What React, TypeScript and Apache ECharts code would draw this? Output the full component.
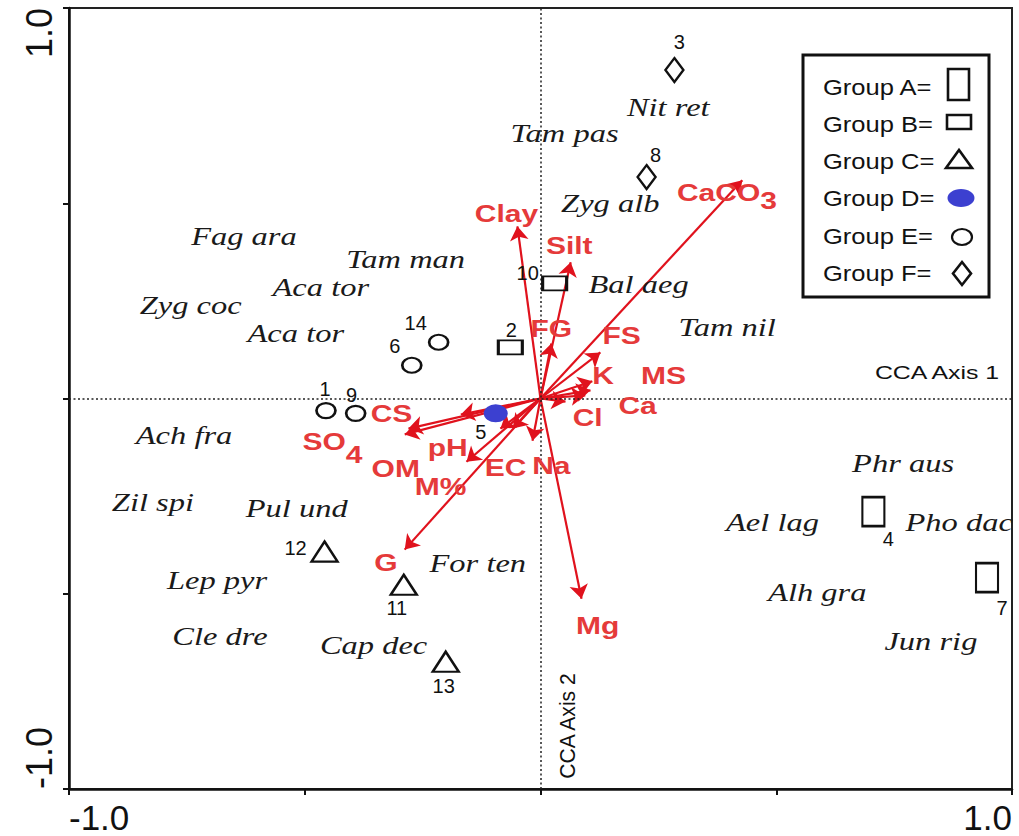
import React, { useEffect, useRef } from 'react';
import * as echarts from 'echarts';

// ---------- data ----------
const xTickLabels = ['-1.0', '1.0'];
const yTickLabels = ['-1.0', '1.0'];

const groupNames = ['Group A', 'Group B', 'Group C', 'Group D', 'Group E', 'Group F'];
const groupKeys = ['A', 'B', 'C', 'D', 'E', 'F'];

const siteNumbers = ['1', '2', '3', '4', '5', '6', '7', '8', '9', '10', '11', '12', '13', '14'];
const siteX = [-0.455, -0.064, 0.284, 0.706, -0.095, -0.273, 0.947, 0.225, -0.392, 0.03, -0.29, -0.458, -0.201, -0.216];
const siteY = [-0.031, 0.131, 0.841, -0.29, -0.038, 0.085, -0.459, 0.567, -0.038, 0.295, -0.477, -0.392, -0.674, 0.144];
const siteGroup = ['E', 'B', 'F', 'A', 'D', 'E', 'A', 'F', 'E', 'B', 'C', 'C', 'C', 'E'];
// label placement (pixel offset from marker centre)
const siteLabelOffset = [
  [-1, -22], [1, -17], [5, -28], [15, 27], [-15, 19], [-17, -19], [15, 30],
  [9, -22], [-4, -18], [-27, -10], [-7, 23], [-29, -4], [-2, 24], [-23, -19],
];

const speciesNames = ['Nit ret', 'Tam pas', 'Zyg alb', 'Fag ara', 'Tam man', 'Bal aeg', 'Aca tor', 'Zyg coc', 'Aca tor', 'Tam nil', 'Ach fra', 'Zil spi', 'Pul und', 'Phr aus', 'Ael lag', 'Pho dac', 'Alh gra', 'Lep pyr', 'For ten', 'Cle dre', 'Cap dec', 'Jun rig'];
const speciesX = [0.271, 0.051, 0.148, -0.629, -0.286, 0.208, -0.466, -0.742, -0.519, 0.396, -0.756, -0.822, -0.517, 0.769, 0.492, 0.888, 0.587, -0.686, -0.133, -0.68, -0.354, 0.828];
const speciesY = [0.746, 0.679, 0.5, 0.415, 0.356, 0.292, 0.284, 0.238, 0.167, 0.182, -0.095, -0.267, -0.282, -0.167, -0.318, -0.318, -0.497, -0.467, -0.423, -0.608, -0.633, -0.621];

const envNames = ['Clay', 'Silt', 'CaCO', 'FG', 'FS', 'K', 'MS', 'Ca', 'Cl', 'Na', 'EC', 'OM', 'pH', 'M%', 'CS', 'SO', 'G', 'Mg'];
const envSub = ['', '', '3', '', '', '', '', '', '', '', '', '', '', '', '', '4', '', ''];
const envX = [-0.049, 0.064, 0.428, 0.023, 0.127, 0.11, 0.106, 0.095, 0.053, -0.017, -0.059, -0.085, -0.157, -0.169, -0.28, -0.288, -0.288, 0.087];
const envY = [0.441, 0.349, 0.559, 0.141, 0.118, 0.044, 0.021, 0.008, -0.008, -0.108, -0.077, -0.077, -0.162, -0.041, -0.077, -0.092, -0.387, -0.513];
const envLabelX = [-0.072, 0.061, 0.466, 0.023, 0.172, 0.133, 0.261, 0.206, 0.1, 0.023, -0.074, -0.307, -0.197, -0.212, -0.316, -0.413, -0.328, 0.121];
const envLabelY = [0.474, 0.392, 0.526, 0.179, 0.162, 0.059, 0.059, -0.018, -0.049, -0.172, -0.177, -0.179, -0.126, -0.226, -0.038, -0.11, -0.421, -0.582];

// ---------- styles ----------
const SANS = '"Liberation Sans", Arial, sans-serif';
const SERIF = '"Liberation Serif", "Times New Roman", serif';
const RED_LINE = '#e0121d';
const RED_TEXT = '#e53a3a';
const INK = '#111';
const BLUE = '#3c40d0';
const ELLIPSE = 'path://M0 10A10 10 0 1 1 20 10A10 10 0 1 1 0 10Z';

const groupStyle: Record<string, { symbol: string; size: number[]; fill: string }> = {
  A: { symbol: 'rect', size: [22, 29], fill: 'rgba(0,0,0,0)' },
  B: { symbol: 'rect', size: [24, 14], fill: 'rgba(0,0,0,0)' },
  C: { symbol: 'triangle', size: [26, 20], fill: 'rgba(0,0,0,0)' },
  D: { symbol: ELLIPSE, size: [24, 18], fill: BLUE },
  E: { symbol: ELLIPSE, size: [19, 15], fill: 'rgba(0,0,0,0)' },
  F: { symbol: 'diamond', size: [18, 24], fill: 'rgba(0,0,0,0)' },
};

function buildOption() {
  const siteSeries = groupKeys.map((g, gi) => {
    const st = groupStyle[g];
    const data: any[] = [];
    siteNumbers.forEach((n, i) => {
      if (siteGroup[i] !== g) return;
      data.push({
        value: [siteX[i], siteY[i]],
        name: n,
        label: { offset: siteLabelOffset[i] },
      });
    });
    return {
      type: 'scatter',
      name: groupNames[gi],
      symbol: st.symbol,
      symbolSize: st.size,
      z: 5,
      itemStyle: {
        color: st.fill,
        borderColor: g === 'D' ? BLUE : INK,
        borderWidth: g === 'D' ? 0 : 2.4,
        opacity: 1,
      },
      label: {
        show: true,
        position: 'inside',
        formatter: (p: any) => p.name,
        color: INK,
        fontSize: 20,
        fontFamily: SANS,
      },
      data,
      ...(gi === 0
        ? {
            markLine: {
              silent: true,
              symbol: 'none',
              label: { show: false },
              lineStyle: { type: [2, 2.5], color: '#222', width: 1.5 },
              data: [{ xAxis: 0 }, { yAxis: 0 }],
            },
          }
        : {}),
    };
  });

  const arrowSeries = {
    type: 'lines',
    coordinateSystem: 'cartesian2d',
    z: 3,
    symbol: ['none', 'arrow'],
    symbolSize: 14,
    lineStyle: { color: RED_LINE, width: 2.2, opacity: 1 },
    data: envNames.map((n, i) => ({ name: n + envSub[i], coords: [[0, 0], [envX[i], envY[i]]] })),
  };

  const envTextStyle = {
    fontFamily: SANS,
    fontWeight: 'bold',
    fontSize: 24,
    fill: RED_TEXT,
  };

  const envLabelSeries = {
    type: 'custom',
    z: 6,
    silent: true,
    data: envLabelX.map((x, i) => [x, envLabelY[i]]),
    renderItem: (params: any, api: any) => {
      const i = params.dataIndex;
      const p = api.coord([api.value(0), api.value(1)]);
      if (envSub[i]) {
        return {
          type: 'group',
          x: p[0],
          y: p[1],
          scaleX: 1.25,
          children: [
            { type: 'text', style: { ...envTextStyle, text: envNames[i], align: 'right', verticalAlign: 'middle' } },
            { type: 'text', y: i === 15 ? 13 : 8, style: { ...envTextStyle, text: envSub[i], align: 'left', verticalAlign: 'middle' } },
          ],
        };
      }
      return {
        type: 'text',
        x: p[0],
        y: p[1],
        scaleX: 1.25,
        style: { ...envTextStyle, text: envNames[i], align: 'center', verticalAlign: 'middle' },
      };
    },
  };

  const speciesSeries = {
    type: 'custom',
    z: 4,
    silent: true,
    data: speciesX.map((x, i) => [x, speciesY[i]]),
    renderItem: (params: any, api: any) => {
      const p = api.coord([api.value(0), api.value(1)]);
      return {
        type: 'text',
        x: p[0],
        y: p[1],
        scaleX: 1.3,
        style: {
          text: speciesNames[params.dataIndex],
          fontFamily: SERIF,
          fontStyle: 'italic',
          fontSize: 25,
          fill: '#1a1a1a',
          align: 'center',
          verticalAlign: 'middle',
        },
      };
    },
  };

  const legendRows = [87, 124, 161, 198, 236, 273];
  const legendGraphic = {
    type: 'group',
    z: 10,
    children: [
      { type: 'rect', shape: { x: 803, y: 55, width: 186, height: 242 }, style: { fill: '#fff', stroke: INK, lineWidth: 3 } },
      ...groupNames.map((g, i) => ({
        type: 'text',
        x: 823,
        y: legendRows[i],
        scaleX: 1.16,
        style: { text: g + '=', fontFamily: SANS, fontSize: 22, fill: INK, align: 'left', verticalAlign: 'middle' },
      })),
      { type: 'rect', shape: { x: 948, y: 69, width: 21, height: 31 }, style: { fill: 'none', stroke: INK, lineWidth: 2.6 } },
      { type: 'rect', shape: { x: 947, y: 115, width: 24, height: 14 }, style: { fill: 'none', stroke: INK, lineWidth: 2.6 } },
      { type: 'polygon', shape: { points: [[946, 168], [959, 150], [972, 168]] }, style: { fill: 'none', stroke: INK, lineWidth: 2.6 } },
      { type: 'ellipse', shape: { cx: 961, cy: 198, rx: 13.5, ry: 9 }, style: { fill: BLUE } },
      { type: 'ellipse', shape: { cx: 962, cy: 237, rx: 10, ry: 8 }, style: { fill: 'none', stroke: INK, lineWidth: 2.2 } },
      { type: 'polygon', shape: { points: [[962, 262], [971, 273.5], [962, 285], [953, 273.5]] }, style: { fill: 'none', stroke: INK, lineWidth: 2.6 } },
    ],
  };

  const axisNameGraphics = [
    {
      type: 'text',
      x: 937,
      y: 373,
      scaleX: 1.38,
      style: { text: 'CCA Axis 1', fontFamily: SANS, fontSize: 18, fill: INK, align: 'center', verticalAlign: 'middle' },
    },
    {
      type: 'text',
      x: 568,
      y: 726,
      rotation: Math.PI / 2,
      scaleX: 1.17,
      scaleY: 1.2,
      style: { text: 'CCA Axis 2', fontFamily: SANS, fontSize: 18, fill: INK, align: 'center', verticalAlign: 'middle' },
    },
  ];

  const axisCommon = {
    type: 'value',
    min: -1,
    max: 1,
    interval: 0.5,
    splitLine: { show: false },
    axisLine: { show: true, onZero: false, lineStyle: { color: INK, width: 2.5 } },
    axisTick: { show: true, length: 6, lineStyle: { color: INK, width: 2 } },
  };

  return {
    animation: false,
    backgroundColor: '#fff',
    grid: { left: 69, right: 7, top: 8, bottom: 47, show: true, borderColor: '#222', borderWidth: 2, backgroundColor: '#fff' },
    xAxis: {
      ...axisCommon,
      axisLabel: {
        show: true,
        margin: 11,
        fontFamily: SANS,
        fontSize: 35,
        color: INK,
        alignMinLabel: 'left',
        alignMaxLabel: 'right',
        formatter: (v: number) => (v === -1 ? xTickLabels[0] : v === 1 ? xTickLabels[1] : ''),
      },
    },
    yAxis: {
      ...axisCommon,
      axisLabel: {
        show: true,
        margin: 12,
        rotate: 90,
        fontFamily: SANS,
        fontSize: 36,
        color: INK,
        alignMinLabel: 'left',
        alignMaxLabel: 'right',
        formatter: (v: number) => (v === -1 ? yTickLabels[0] : v === 1 ? yTickLabels[1] : ''),
      },
    },
    graphic: [legendGraphic, ...axisNameGraphics],
    series: [arrowSeries, speciesSeries, envLabelSeries, ...siteSeries],
  };
}

export default function App() {
  const ref = useRef<HTMLDivElement>(null);
  useEffect(() => {
    if (!ref.current) return;
    const chart = echarts.init(ref.current, null, { renderer: 'svg' });
    chart.setOption(buildOption() as any);
    return () => chart.dispose();
  }, []);
  return (
    <div
      ref={ref}
      style={{ position: 'fixed', left: 0, top: 0, width: 1019, height: 836, background: '#fff' }}
    />
  );
}
